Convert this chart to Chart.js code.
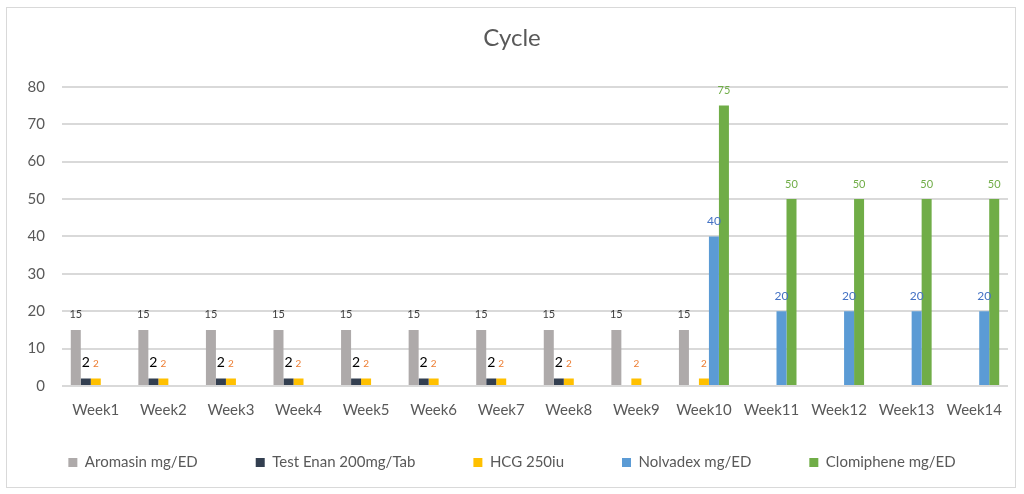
<!DOCTYPE html>
<html>
<head>
<meta charset="utf-8">
<script src="https://cdn.jsdelivr.net/npm/chart.js@4/dist/chart.umd.min.js"></script>
<style>
    html, body { margin: 0; padding: 0; background: #fff; }
    .frame {
        position: absolute; left: 6px; top: 7px;
        width: 1010px; height: 481px;
        border: 1px solid #d9d9d9; box-sizing: border-box;
    }
    .chart-container { position: absolute; left: 0; top: 0; width: 1024px; height: 494px; }
</style>
</head>
<body>
<div class="frame"></div>
<div class="chart-container">
    <canvas id="cycleChart"></canvas>
</div>
<script>
const weeks = ['Week1', 'Week2', 'Week3', 'Week4', 'Week5', 'Week6', 'Week7', 'Week8', 'Week9', 'Week10', 'Week11', 'Week12', 'Week13', 'Week14'];
const aromasin   = [15, 15, 15, 15, 15, 15, 15, 15, 15, 15, null, null, null, null];
const testEnan   = [2, 2, 2, 2, 2, 2, 2, 2, null, null, null, null, null, null];
const hcg        = [2, 2, 2, 2, 2, 2, 2, 2, 2, 2, null, null, null, null];
const nolvadex   = [null, null, null, null, null, null, null, null, null, 40, 20, 20, 20, 20];
const clomiphene = [null, null, null, null, null, null, null, null, null, 75, 50, 50, 50, 50];
const yTicks = [0, 10, 20, 30, 40, 50, 60, 70, 80];

const fontFamily = 'Lato, "Open Sans", sans-serif';

// draws the value above each bar, styled per dataset
const valueLabels = {
    id: 'valueLabels',
    afterDatasetsDraw(chart) {
        const ctx = chart.ctx;
        chart.data.datasets.forEach((ds, i) => {
            const meta = chart.getDatasetMeta(i);
            const lbl = ds.label_style;
            meta.data.forEach((bar, j) => {
                const v = ds.data[j];
                if (v === null || v === undefined) return;
                ctx.save();
                ctx.font = lbl.size + 'px ' + fontFamily;
                ctx.fillStyle = lbl.color;
                ctx.textAlign = 'center';
                ctx.textBaseline = 'middle';
                ctx.fillText(String(v), bar.x + lbl.dx, bar.y - lbl.dy);
                ctx.restore();
            });
        });
    }
};

// legend uses wide item spacing (padding), which also makes it tall;
// fix its height for the layout and then move it where it belongs
const legendPlace = {
    id: 'legendPlace',
    beforeLayout(chart) {
        const lg = chart.legend;
        if (lg && !lg._fitFixed) {
            const fit = lg.fit;
            lg.fit = function () {
                fit.call(this);
                this.height = 72;
            };
            lg._fitFixed = true;
        }
    },
    afterLayout(chart) {
        const lg = chart.legend;
        lg.top = 397;
        lg.bottom = chart.height;
        lg.height = lg.bottom - lg.top;
    }
};

new Chart(document.getElementById('cycleChart').getContext('2d'), {
    type: 'bar',
    data: {
        labels: weeks,
        datasets: [
            { label: 'Aromasin mg/ED', data: aromasin, backgroundColor: '#aeaaaa', yAxisID: 'y',
              label_style: { color: '#404040', size: 11, dx: 0, dy: 15 } },
            { label: 'Test Enan 200mg/Tab', data: testEnan, backgroundColor: '#333f50', yAxisID: 'y',
              label_style: { color: '#000000', size: 14, dx: 0, dy: 16 } },
            { label: 'HCG 250iu', data: hcg, backgroundColor: '#ffc000', yAxisID: 'y',
              label_style: { color: '#ed7d31', size: 10, dx: 0, dy: 15 } },
            { label: 'Nolvadex mg/ED', data: nolvadex, backgroundColor: '#5b9bd5', yAxisID: 'y',
              label_style: { color: '#4472c4', size: 12, dx: 0, dy: 15 } },
            { label: 'Clomiphene mg/ED', data: clomiphene, backgroundColor: '#70ad47', yAxisID: 'y',
              label_style: { color: '#70ad47', size: 11, dx: 0, dy: 15 } }
        ]
    },
    options: {
        responsive: true,
        maintainAspectRatio: false,
        animation: false,
        categoryPercentage: 0.74,
        barPercentage: 1,
        layout: { padding: { left: 0, right: 0, top: 10, bottom: 0 } },
        plugins: {
            title: {
                display: true,
                text: 'Cycle',
                color: '#595959',
                font: { family: fontFamily, size: 24, weight: 'normal' },
                padding: { top: 14, bottom: 34 }
            },
            legend: {
                position: 'bottom',
                labels: {
                    color: '#595959',
                    font: { family: fontFamily, size: 15 },
                    boxWidth: 9,
                    boxHeight: 9,
                    padding: 58
                }
            },
            tooltip: { enabled: false }
        },
        scales: {
            x: {
                grid: { display: false, drawTicks: false },
                border: { display: false },
                ticks: { color: '#595959', font: { family: fontFamily, size: 15 }, padding: 15, autoSkip: false, maxRotation: 0 },
                afterFit: scale => { scale.height = 36; }
            },
            y: {
                min: 0,
                max: 80,
                afterBuildTicks: axis => { axis.ticks = yTicks.map(v => ({ value: v })); },
                grid: { color: '#d9d9d9', lineWidth: 2, drawTicks: false },
                border: { display: false },
                ticks: { color: '#595959', font: { family: fontFamily, size: 15 }, padding: 17, autoSkip: false },
                afterFit: scale => { scale.width = 62; }
            },
            yRight: {
                position: 'right',
                display: true,
                grid: { display: false },
                border: { display: false },
                ticks: { display: false },
                afterFit: scale => { scale.width = 16; }
            }
        }
    },
    plugins: [valueLabels, legendPlace]
});
</script>
</body>
</html>
